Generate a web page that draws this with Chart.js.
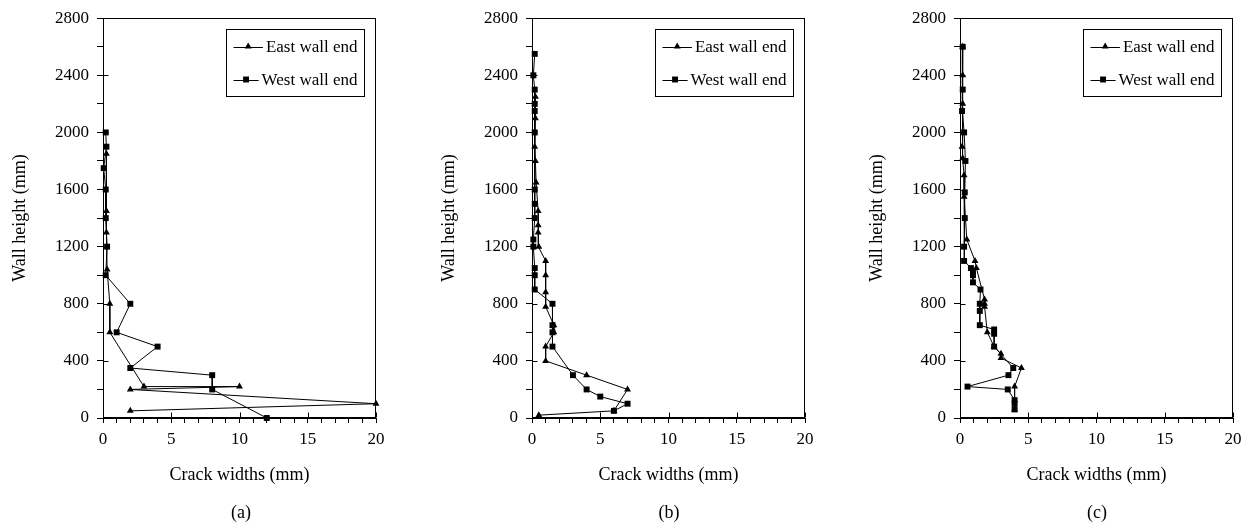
<!DOCTYPE html>
<html>
<head>
  <meta charset="utf-8">
  <title>Crack widths over wall height</title>
  <script src="https://cdn.jsdelivr.net/npm/chart.js"></script>
  <style>
    body {
      margin: 0;
      background: #fff;
    }
    #wrap {
      position: relative;
      width: 1254px;
      height: 528px;
      font-family: "Liberation Serif", "Times New Roman", serif;
    }
    canvas {
      position: absolute;
      top: 0;
    }
    .tag {
      position: absolute;
      top: 501px;
      width: 100px;
      text-align: center;
      font-size: 18px;
      line-height: 22px;
      color: #000;
    }
  </style>
</head>
<body>
  <div id="wrap">
    <canvas id="chartA" width="397" height="528" style="left:0px"></canvas>
    <canvas id="chartB" width="397" height="528" style="left:429px"></canvas>
    <canvas id="chartC" width="397" height="528" style="left:857px"></canvas>
    <div class="tag" style="left:191px">(a)</div>
    <div class="tag" style="left:619px">(b)</div>
    <div class="tag" style="left:1047px">(c)</div>
  </div>

  <script>
    // crack width (mm) measured at each height (mm) up the wall
    var eastWidthA  = [0.25, 0.25, 0.25, 0.3, 0.5, 0.5, 3, 10, 2, 20, 2];
    var eastHeightA = [1850, 1450, 1300, 1040, 800, 600, 220, 220, 200, 100, 50];
    var westWidthA  = [0.2, 0.25, 0.05, 0.2, 0.2, 0.3, 0.2, 2, 1, 4, 2, 8, 8, 12];
    var westHeightA = [2000, 1900, 1750, 1600, 1400, 1200, 1000, 800, 600, 500, 350, 300, 200, 0];

    var eastWidthB  = [0.25, 0.25, 0.2, 0.25, 0.3, 0.45, 0.45, 0.45, 0.5, 1, 1, 1, 1, 1.6, 1.6, 1, 1, 4, 7, 6, 0.5];
    var eastHeightB = [2250, 2100, 1900, 1800, 1650, 1450, 1350, 1300, 1200, 1100, 1000, 880, 780, 650, 600, 500, 400, 300, 200, 50, 20];
    var westWidthB  = [0.2, 0.1, 0.2, 0.2, 0.2, 0.2, 0.2, 0.2, 0.2, 0.1, 0.1, 0.2, 0.2, 0.2, 1.5, 1.5, 1.5, 1.5, 3, 4, 5, 7, 6];
    var westHeightB = [2550, 2400, 2300, 2200, 2150, 2000, 1600, 1500, 1400, 1250, 1200, 1050, 1000, 900, 800, 650, 600, 500, 300, 200, 150, 100, 50];

    var eastWidthC  = [0.2, 0.2, 0.2, 0.15, 0.2, 0.3, 0.3, 0.5, 1.1, 1.2, 1.8, 1.8, 1.8, 2.0, 2.5, 3.0, 3.0, 4.5, 4.0, 4.0];
    var eastHeightC = [2600, 2400, 2200, 1900, 1820, 1700, 1550, 1250, 1100, 1050, 830, 800, 780, 600, 500, 450, 420, 350, 220, 60];
    var westWidthC  = [0.2, 0.2, 0.15, 0.3, 0.4, 0.35, 0.35, 0.3, 0.3, 0.8, 0.95, 0.95, 0.95, 1.5, 1.45, 1.45, 1.45, 2.5, 2.5, 2.5, 3.9, 3.55, 0.55, 3.5, 4, 4, 4];
    var westHeightC = [2600, 2300, 2150, 2000, 1800, 1580, 1400, 1200, 1100, 1050, 1020, 1000, 950, 900, 800, 750, 650, 620, 590, 500, 350, 300, 220, 200, 125, 100, 60];

    var seriesNames = ["East wall end", "West wall end"];
    var xTickLabels = [0, 5, 10, 15, 20];
    var yTickLabels = [0, 400, 800, 1200, 1600, 2000, 2400, 2800];

    var serif = "'Liberation Serif', 'Times New Roman', serif";

    function pairUp(w, h) {
      var pts = [];
      for (var i = 0; i < w.length; i++) {
        pts.push({ x: w[i], y: h[i] });
      }
      return pts;
    }

    function marker(ctx, style, r, x, y) {
      ctx.beginPath();
      if (style === "triangle") {
        ctx.moveTo(x, y - r);
        ctx.lineTo(x + r * 0.866, y + r * 0.5);
        ctx.lineTo(x - r * 0.866, y + r * 0.5);
        ctx.closePath();
      } else {
        var s = r * Math.SQRT1_2;
        ctx.rect(x - s, y - s, 2 * s, 2 * s);
      }
      ctx.fill();
    }

    // box round the plot, plus the inner half of each major tick
    var framePlugin = {
      id: "frame",
      beforeDatasetsDraw: function (chart) {
        var ctx = chart.ctx, a = chart.chartArea;
        var xs = chart.scales.x, ys = chart.scales.y;
        ctx.save();
        ctx.strokeStyle = "#000";
        ctx.lineWidth = 1;
        var l = Math.round(a.left) + 0.5, r = Math.round(a.right) - 0.5;
        var t = Math.round(a.top) + 0.5, b = Math.round(a.bottom) - 0.5;
        ctx.strokeRect(l, t, r - l, b - t);
        ctx.beginPath();
        yTickLabels.forEach(function (v) {
          var py = Math.round(ys.getPixelForValue(v)) + 0.5;
          ctx.moveTo(l, py);
          ctx.lineTo(l + 5, py);
        });
        xTickLabels.forEach(function (v) {
          var px = Math.round(xs.getPixelForValue(v)) + 0.5;
          ctx.moveTo(px, b);
          ctx.lineTo(px, b - 5);
        });
        ctx.stroke();
        ctx.restore();
      }
    };

    // legend drawn as line + marker + name, inside a framed box
    var keyPlugin = {
      id: "keyBox",
      afterDraw: function (chart) {
        var ctx = chart.ctx, a = chart.chartArea;
        var bx = Math.round(a.left) + 123.5, by = Math.round(a.top) + 11.5;
        var bw = 138, bh = 67;
        ctx.save();
        ctx.fillStyle = "#fff";
        ctx.fillRect(bx, by, bw, bh);
        ctx.strokeStyle = "#000";
        ctx.lineWidth = 1;
        ctx.strokeRect(bx, by, bw, bh);
        ctx.font = "17px " + serif;
        ctx.textBaseline = "middle";
        ctx.textAlign = "left";
        chart.data.datasets.forEach(function (ds, i) {
          var cy = by + 17 + i * 33;
          var tw = ctx.measureText(ds.label).width;
          var tx = bx + bw - 7 - tw;
          var x0 = bx + 7, x1 = tx - 3;
          ctx.beginPath();
          ctx.moveTo(x0, Math.round(cy) + 0.5);
          ctx.lineTo(x1, Math.round(cy) + 0.5);
          ctx.stroke();
          ctx.fillStyle = "#000";
          marker(ctx, ds.pointStyle, ds.pointRadius, (x0 + x1) / 2, cy);
          ctx.fillText(ds.label, tx, cy + 1);
        });
        ctx.restore();
      }
    };

    function makePanel(id, ew, eh, ww, wh) {
      var ctx = document.getElementById(id).getContext("2d");
      return new Chart(ctx, {
        type: "scatter",
        data: {
          datasets: [{
            label: seriesNames[0],
            data: pairUp(ew, eh),
            showLine: true,
            borderColor: "#000",
            borderWidth: 1,
            backgroundColor: "#000",
            pointStyle: "triangle",
            pointRadius: 4,
            pointBorderWidth: 0,
            clip: false
          }, {
            label: seriesNames[1],
            data: pairUp(ww, wh),
            showLine: true,
            borderColor: "#000",
            borderWidth: 1,
            backgroundColor: "#000",
            pointStyle: "rect",
            pointRadius: 4.2,
            pointBorderWidth: 0,
            clip: false
          }]
        },
        options: {
          responsive: false,
          animation: false,
          devicePixelRatio: 1,
          layout: { padding: { top: 15, right: 21, bottom: 0, left: 0 } },
          plugins: {
            legend: { display: false },
            tooltip: { enabled: false }
          },
          scales: {
            x: {
              type: "linear",
              min: 0,
              max: 20,
              afterFit: function (s) { s.height = 110; },
              ticks: {
                stepSize: 1,
                autoSkip: false,
                maxRotation: 0,
                padding: 6,
                color: "#000",
                font: { family: serif, size: 17 },
                callback: function (v) { return xTickLabels.indexOf(v) >= 0 ? String(v) : ""; }
              },
              grid: { drawOnChartArea: false, drawTicks: true, tickLength: 5, color: "#000" },
              border: { color: "#000", width: 1 },
              title: {
                display: true,
                text: "Crack widths (mm)",
                color: "#000",
                font: { family: serif, size: 18 },
                padding: { top: 0, bottom: 42 }
              }
            },
            y: {
              type: "linear",
              min: 0,
              max: 2800,
              afterFit: function (s) { s.width = 103; },
              ticks: {
                stepSize: 200,
                autoSkip: false,
                padding: 8,
                color: "#000",
                font: { family: serif, size: 17 },
                callback: function (v) { return yTickLabels.indexOf(v) >= 0 ? String(v) : ""; }
              },
              grid: { drawOnChartArea: false, drawTicks: true, tickLength: 6, color: "#000" },
              border: { color: "#000", width: 1 },
              title: {
                display: true,
                text: "Wall height (mm)",
                color: "#000",
                font: { family: serif, size: 18 },
                padding: { top: 9, bottom: 0 }
              }
            }
          }
        },
        plugins: [framePlugin, keyPlugin]
      });
    }

    makePanel("chartA", eastWidthA, eastHeightA, westWidthA, westHeightA);
    makePanel("chartB", eastWidthB, eastHeightB, westWidthB, westHeightB);
    makePanel("chartC", eastWidthC, eastHeightC, westWidthC, westHeightC);
  </script>
</body>
</html>
